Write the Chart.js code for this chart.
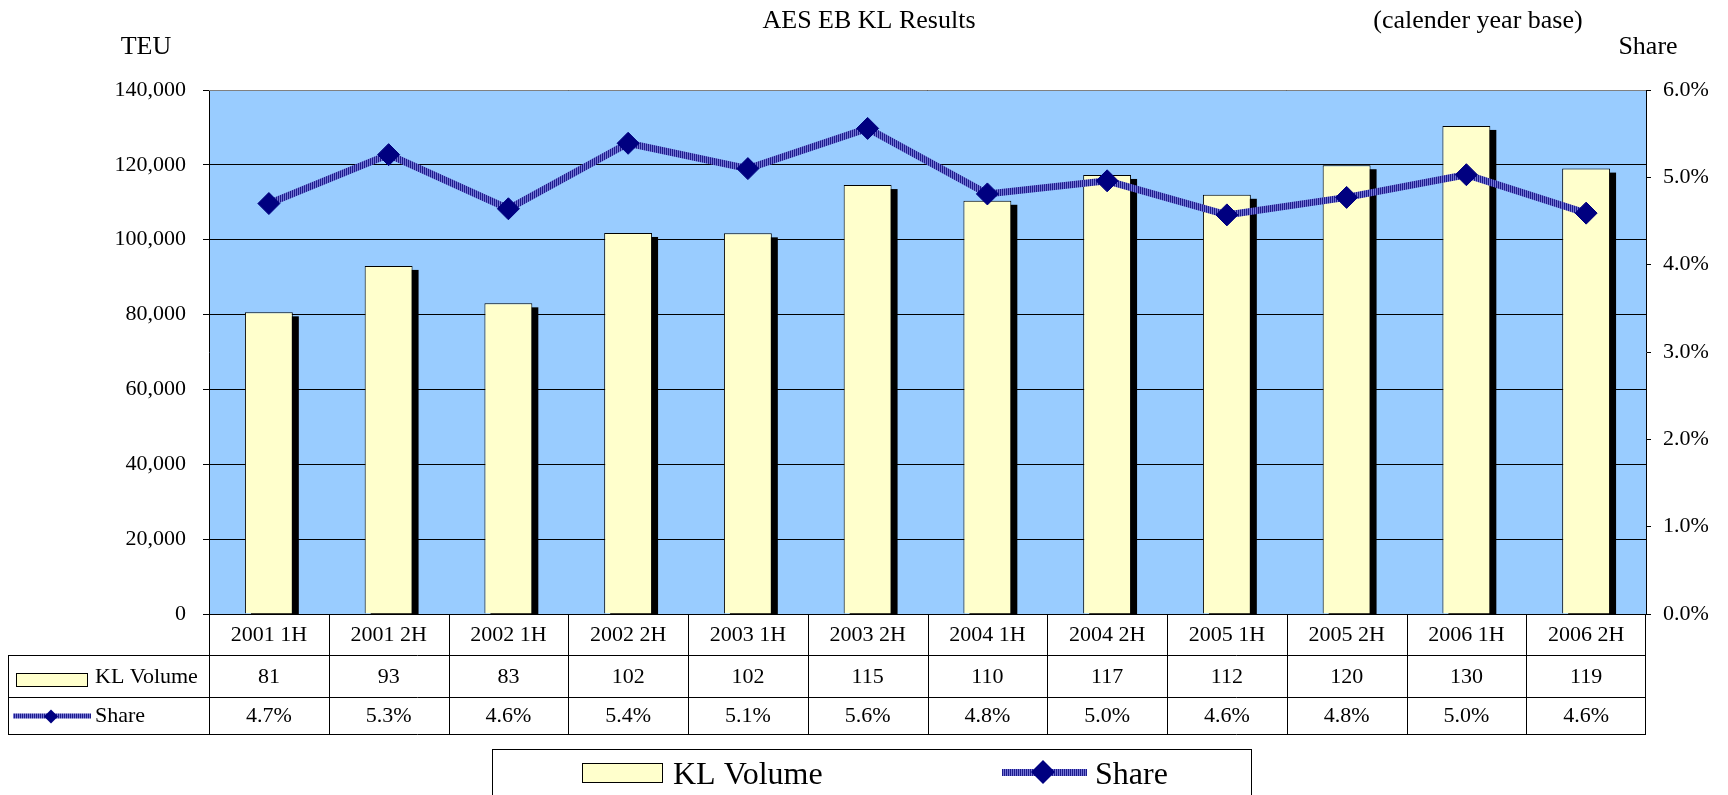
<!DOCTYPE html>
<html>
<head>
<meta charset="utf-8">
<script src="https://cdn.jsdelivr.net/npm/chart.js@4.4.0/dist/chart.umd.min.js"></script>
<style>
  html, body { margin: 0; padding: 0; background: #fff; }
  #wrap { width: 1728px; height: 795px; position: relative; }
</style>
</head>
<body>
<div id="wrap"><canvas id="chart" width="1728" height="795"></canvas></div>
<script>
const categories = ['2001 1H', '2001 2H', '2002 1H', '2002 2H', '2003 1H', '2003 2H',
                    '2004 1H', '2004 2H', '2005 1H', '2005 2H', '2006 1H', '2006 2H'];
// TEU
const klVolume = [80600, 93000, 83000, 101800, 101700, 114600, 110400, 117300, 112000, 119900, 130400, 119000];
// percent
const share = [4.70, 5.26, 4.64, 5.39, 5.10, 5.56, 4.81, 4.96, 4.57, 4.77, 5.03, 4.59];
const volumeTicks = [0, 20000, 40000, 60000, 80000, 100000, 120000, 140000];
const shareTicks = [0, 1, 2, 3, 4, 5, 6];

const FONT = "'Liberation Serif', 'Times New Roman', serif";
const BAR_FILL = '#FFFFCC';
const PLOT_BG = '#99CCFF';
const NAVY = '#000080';

function stripePattern() {
    const c = document.createElement('canvas');
    c.width = 2; c.height = 2;
    const g = c.getContext('2d');
    g.fillStyle = '#7474D4';
    g.fillRect(0, 0, 2, 2);
    g.fillStyle = '#1C1C8C';
    g.fillRect(0, 0, 1, 2);
    return g.createPattern(c, 'repeat');
}
const linePattern = stripePattern();

function diamond(ctx, x, y, r) {
    ctx.beginPath();
    ctx.moveTo(x, y - r);
    ctx.lineTo(x + r, y);
    ctx.lineTo(x, y + r);
    ctx.lineTo(x - r, y);
    ctx.closePath();
    ctx.fillStyle = NAVY;
    ctx.fill();
}

function hline(ctx, x1, x2, y) {
    ctx.beginPath();
    ctx.moveTo(x1, y + 0.5);
    ctx.lineTo(x2, y + 0.5);
    ctx.stroke();
}
function vline(ctx, x, y1, y2) {
    ctx.beginPath();
    ctx.moveTo(x + 0.5, y1);
    ctx.lineTo(x + 0.5, y2);
    ctx.stroke();
}

const plotBackground = {
    id: 'plotBackground',
    beforeDraw(chart) {
        const {ctx, chartArea: a} = chart;
        ctx.save();
        ctx.fillStyle = '#fff';
        ctx.fillRect(0, 0, chart.width, chart.height);
        ctx.fillStyle = PLOT_BG;
        ctx.fillRect(a.left, a.top, a.right - a.left, a.bottom - a.top);
        ctx.restore();
    }
};

// black drop shadow behind each bar
const barShadow = {
    id: 'barShadow',
    beforeDatasetsDraw(chart) {
        const {ctx, chartArea: a} = chart;
        const meta = chart.getDatasetMeta(0);
        ctx.save();
        ctx.beginPath();
        ctx.rect(a.left, a.top, a.right - a.left, a.bottom - a.top);
        ctx.clip();
        ctx.fillStyle = '#000';
        meta.data.forEach(el => {
            const p = el.getProps(['x', 'y', 'base', 'width'], true);
            ctx.fillRect(p.x - p.width / 2 + 6, p.y + 4, p.width, p.base - p.y);
        });
        ctx.restore();
    }
};

const dataTable = {
    id: 'dataTable',
    afterDraw(chart) {
        const {ctx, chartArea: a} = chart;
        const x = chart.scales.x;
        const half = (x.getPixelForValue(1) - x.getPixelForValue(0)) / 2;
        const top = Math.round(a.bottom);
        const r1 = top + 41, r2 = top + 83, r3 = top + 120;
        const left = 8;
        ctx.save();
        ctx.strokeStyle = '#000';
        ctx.lineWidth = 1;
        // plot frame
        ctx.strokeStyle = '#808080';
        hline(ctx, a.left, a.right, Math.round(a.top));
        ctx.strokeStyle = '#000';
        hline(ctx, a.left, a.right, top);
        hline(ctx, left, a.right, r1);
        hline(ctx, left, a.right, r2);
        hline(ctx, left, a.right, r3);
        vline(ctx, left, r1, r3 + 1);
        categories.forEach((c, i) => vline(ctx, Math.round(x.getPixelForValue(i) - half), top, r3 + 1));
        vline(ctx, Math.round(a.right) - 1, top, r3 + 1);

        ctx.fillStyle = '#000';
        ctx.font = '22px ' + FONT;
        ctx.textAlign = 'center';
        ctx.textBaseline = 'middle';
        categories.forEach((c, i) => {
            const cx = x.getPixelForValue(i);
            ctx.fillText(c, cx, (top + r1) / 2 + 1);
            ctx.fillText(String(Math.round(klVolume[i] / 1000)), cx, (r1 + r2) / 2 + 1);
            ctx.fillText(share[i].toFixed(1) + '%', cx, (r2 + r3) / 2 + 1);
        });

        // series keys in the table
        ctx.textAlign = 'left';
        ctx.fillStyle = BAR_FILL;
        ctx.fillRect(16, r1 + 18, 71, 13);
        ctx.strokeStyle = '#000';
        ctx.strokeRect(16.5, r1 + 18.5, 71, 13);
        ctx.fillStyle = '#000';
        ctx.fillText('KL Volume', 95, (r1 + r2) / 2 + 1);
        ctx.fillStyle = linePattern;
        ctx.fillRect(13, (r2 + r3) / 2 - 2, 78, 5);
        diamond(ctx, 51, (r2 + r3) / 2 + 1, 7);
        ctx.fillStyle = '#000';
        ctx.fillText('Share', 95, (r2 + r3) / 2 + 1);

        // titles
        ctx.font = '26px ' + FONT;
        ctx.textBaseline = 'alphabetic';
        ctx.textAlign = 'center';
        ctx.fillText('AES EB KL Results', 869, 28);
        ctx.fillText('(calender year base)', 1478, 28);
        ctx.fillText('TEU', 146, 54);
        ctx.fillText('Share', 1648, 54);

        // legend box
        ctx.strokeStyle = '#000';
        ctx.strokeRect(492.5, 749.5, 759, 60);
        ctx.fillStyle = BAR_FILL;
        ctx.fillRect(582, 763, 80, 19);
        ctx.strokeRect(582.5, 763.5, 80, 19);
        ctx.fillStyle = linePattern;
        ctx.fillRect(1002, 769, 85, 7);
        diamond(ctx, 1043, 772, 12);
        ctx.fillStyle = '#000';
        ctx.font = '32px ' + FONT;
        ctx.textAlign = 'left';
        ctx.fillText('KL Volume', 673, 784);
        ctx.fillText('Share', 1095, 784);
        ctx.restore();
    }
};

new Chart(document.getElementById('chart'), {
    data: {
        labels: categories,
        datasets: [{
            type: 'bar',
            label: 'KL Volume',
            data: klVolume,
            yAxisID: 'y',
            backgroundColor: BAR_FILL,
            borderColor: '#000',
            borderWidth: 1,
            barPercentage: 0.4,
            categoryPercentage: 1.0,
            order: 1
        }, {
            type: 'line',
            label: 'Share',
            data: share,
            yAxisID: 'y1',
            borderColor: linePattern,
            borderWidth: 7,
            tension: 0,
            pointStyle: 'rectRot',
            pointRadius: 11,
            pointBackgroundColor: NAVY,
            pointBorderColor: NAVY,
            pointBorderWidth: 1,
            order: 0
        }]
    },
    options: {
        responsive: false,
        animation: false,
        layout: { padding: { top: 90, bottom: 181, left: 0, right: 0 } },
        plugins: { legend: { display: false }, title: { display: false }, tooltip: { enabled: false } },
        scales: {
            x: { display: false, offset: true },
            y: {
                position: 'left',
                min: volumeTicks[0],
                max: volumeTicks[volumeTicks.length - 1],
                afterBuildTicks: s => { s.ticks = volumeTicks.map(v => ({value: v})); },
                afterFit: s => { s.width = 209; },
                ticks: {
                    color: '#000',
                    font: { family: FONT, size: 22 },
                    padding: 17,
                    callback: v => v.toLocaleString('en-US')
                },
                grid: { color: '#000', lineWidth: 1, tickLength: 6 },
                border: { display: true, color: '#000' }
            },
            y1: {
                position: 'right',
                min: shareTicks[0],
                max: shareTicks[shareTicks.length - 1],
                afterBuildTicks: s => { s.ticks = shareTicks.map(v => ({value: v})); },
                afterFit: s => { s.width = 82; },
                ticks: {
                    color: '#000',
                    font: { family: FONT, size: 22 },
                    padding: 12,
                    callback: v => v.toFixed(1) + '%'
                },
                grid: { drawOnChartArea: false, color: '#000', tickLength: 5 },
                border: { display: true, color: '#000' }
            }
        }
    },
    plugins: [plotBackground, barShadow, dataTable]
});
</script>
</body>
</html>
